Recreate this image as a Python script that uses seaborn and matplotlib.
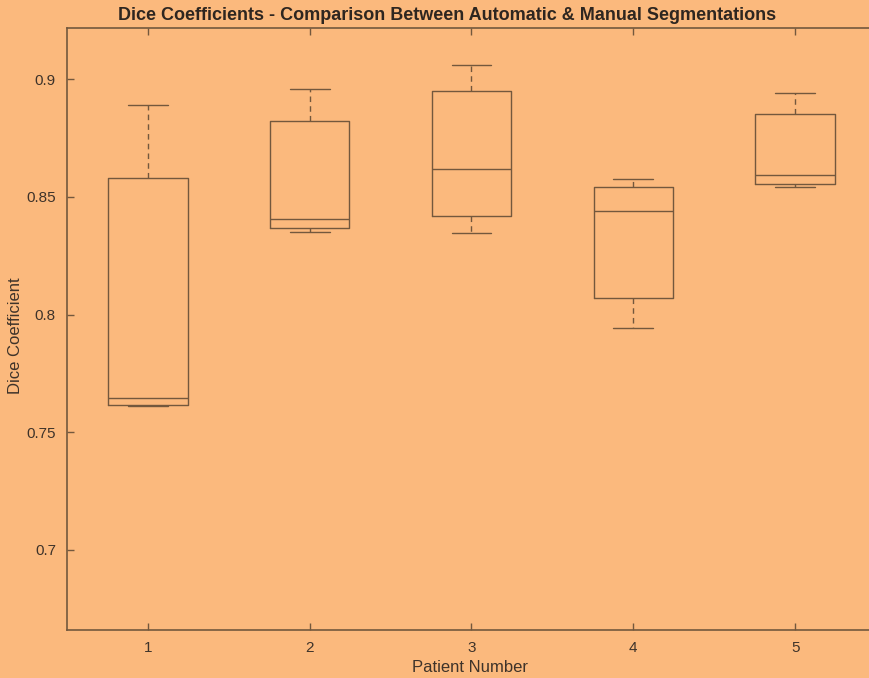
import numpy as np
import pandas as pd
import matplotlib
matplotlib.use("Agg")
import matplotlib.pyplot as plt
import seaborn as sns

# Five-number summaries (min, Q1, median, Q3, max)
patients = ["1", "2", "3", "4", "5"]
p1 = [0.7610, 0.7615, 0.7645, 0.8580, 0.8890]
p2 = [0.8350, 0.8367, 0.8405, 0.8820, 0.8960]
p3 = [0.8346, 0.8418, 0.8618, 0.8950, 0.9060]
p4 = [0.7942, 0.8070, 0.8439, 0.8541, 0.8575]
p5 = [0.8540, 0.8554, 0.8592, 0.8851, 0.8940]
yticks = [0.7, 0.75, 0.8, 0.85, 0.9]
yticklabels = ["0.7", "0.75", "0.8", "0.85", "0.9"]

title = "Dice Coefficients - Comparison Between Automatic & Manual Segmentations"
xlabel = "Patient Number"
ylabel = "Dice Coefficient"

df = pd.DataFrame({
    "Patient": np.repeat(patients, 5),
    "Dice": p1 + p2 + p3 + p4 + p5,
})

sns.set_style("white")
plt.rcParams["font.family"] = ["Liberation Sans", "DejaVu Sans"]

bg = "#FBB97D"
lc = "#73583d"
tc = "#3e332a"

fig = plt.figure(figsize=(8.7, 6.78), dpi=100)
fig.patch.set_facecolor(bg)
ax = fig.add_axes([67 / 870, 1 - 630 / 678, (876 - 67) / 870, (630 - 28) / 678])
ax.set_facecolor(bg)

sns.boxplot(
    data=df, x="Patient", y="Dice", order=patients, ax=ax,
    whis=(0, 100), width=0.49, fill=False, linecolor=lc, linewidth=1.0,
    showfliers=False,
    whiskerprops=dict(linestyle=(0, (4, 3)), color=lc, linewidth=1.0),
    capprops=dict(color=lc, linewidth=1.0),
    medianprops=dict(color=lc, linewidth=1.0),
    boxprops=dict(color=lc, linewidth=1.0),
)

ax.set_xlim(-0.5, 4.5)
ax.set_ylim(0.666, 0.9217)
ax.set_yticks(yticks)
ax.set_yticklabels(yticklabels)
ax.set_xticks(range(len(patients)))
ax.set_xticklabels(patients)

for s in ax.spines.values():
    s.set_visible(True)
    s.set_color(lc)
    s.set_linewidth(1.2)

ax.tick_params(axis="both", direction="in", length=5, width=1, color=lc,
               labelcolor=tc, labelsize=11, top=True, right=True,
               left=True, bottom=True)
ax.tick_params(axis="x", pad=8)
ax.tick_params(axis="y", pad=8)

ax.set_xlabel("")
ax.set_ylabel("")
fig.text(470 / 870, 1 - 667 / 678, xlabel, ha="center", va="center",
         fontsize=12, color=tc)
fig.text(16 / 870, 1 - 336 / 678, ylabel, ha="center", va="center",
         rotation=90, fontsize=12, color=tc)
fig.text(447 / 870, 1 - 15 / 678, title, ha="center", va="center",
         fontsize=13, fontweight="bold", color="#2e2620")

fig.savefig("out.png", dpi=100, facecolor=bg)
